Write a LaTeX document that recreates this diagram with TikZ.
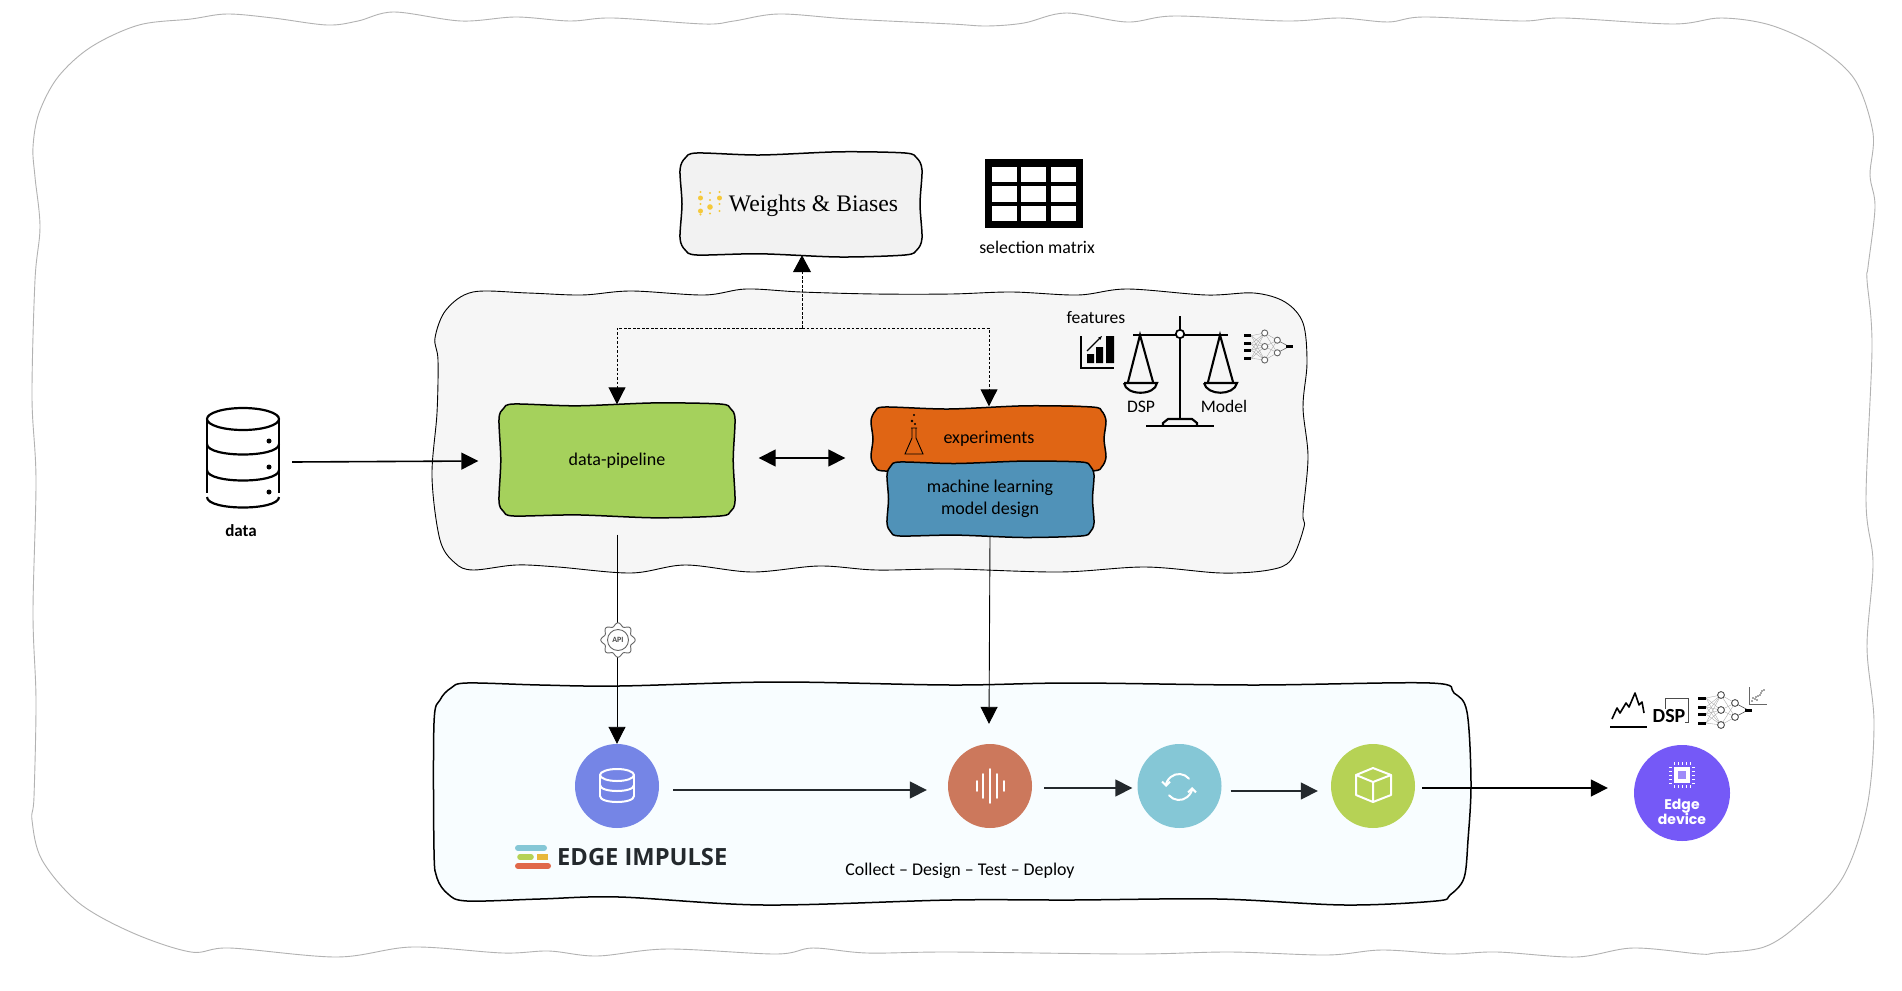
\documentclass[tikz,border=0pt]{standalone}
\usepackage{fontspec}
\setmainfont{Carlito}
\newfontfamily\wbfont{Liberation Serif}
\newfontfamily\popfont{Poppins}
\newfontfamily\opfont{Open Sans}
\usetikzlibrary{arrows.meta,calc}
\definecolor{dk}{HTML}{24292D}
\definecolor{cdb}{HTML}{7585E6}
\definecolor{csd}{HTML}{CC785C}
\definecolor{csy}{HTML}{85C7D6}
\definecolor{ccu}{HTML}{B6D255}
\definecolor{cedge}{HTML}{7559F7}
\definecolor{cgreen}{HTML}{A5D15C}
\definecolor{corange}{HTML}{E06514}
\definecolor{cblue}{HTML}{5092B8}
\definecolor{cbot}{HTML}{F8FDFF}
\definecolor{cwb}{HTML}{F5C93A}
\definecolor{cei}{HTML}{E0684A}
\definecolor{cey}{HTML}{E8B83A}
\newcommand\fs[1]{\fontsize{#1}{\dimexpr#1pt*6/5\relax}\selectfont}
\newcommand\wobbox[7]{%
\draw[#1] plot[smooth cycle,tension=.5] coordinates {
({#2+#6},{#3}) ({#2+.33*(#4-#2)},{#3+#7}) ({#2+.66*(#4-#2)},{#3-.6*#7}) ({#4-#6},{#3})
({#4-.3*#6},{#3+.3*#6}) ({#4},{#3+#6}) ({#4-#7},{.5*(#3+#5)}) ({#4},{#5-#6})
({#4-.3*#6},{#5-.3*#6}) ({#4-#6},{#5}) ({#2+.66*(#4-#2)},{#5+#7}) ({#2+.33*(#4-#2)},{#5-.6*#7}) ({#2+#6},{#5})
({#2+.3*#6},{#5-.3*#6}) ({#2},{#5-#6}) ({#2+#7},{.5*(#3+#5)}) ({#2},{#3+#6}) ({#2+.3*#6},{#3+.3*#6})};}
% neural-net icon: local box 54 x 30
\newcommand\nnicon[2]{%
\begin{scope}[#1]
\foreach \a in {3,12,19,28}{\foreach \b in {0,15,30}{\draw[black!35,line width=.35pt] (8,\a) -- (23,\b);}}
\foreach \b in {0,15,30}{\foreach \c in {8,22}{\draw[black!35,line width=.35pt] (23,\b) -- (37,\c);}}
\foreach \c in {8,22}{\draw[#2,line width=.6pt] (37,\c) -- (50,15);}
\foreach \a in {3,12,19,28}{\draw[black,line width=3pt] (0,\a) -- (8,\a);}
\foreach \b in {0,15,30}{\draw[#2,line width=.9pt,fill=white] (23,\b) circle[radius=3.4];}
\foreach \c in {8,22}{\draw[#2,line width=.9pt,fill=white] (37,\c) circle[radius=3.4];}
\draw[black,line width=3pt] (47,15) -- (54,15);
\end{scope}}
\tikzset{
  lbl/.style={inner sep=0pt,font=\fs{18}},
  arr/.style={line width=1.6pt,draw=#1,-{Triangle[length=17pt,width=17pt]}},
  arr/.default=black,
  dotline/.style={line width=.9pt,dash pattern=on 2.6pt off 1.9pt},
  ringnode/.style={circle,minimum size=84pt,inner sep=0pt,fill=#1},
  ico/.style={white,line width=2pt,line cap=round,line join=round},
}
\begin{document}
\begin{tikzpicture}[x=1pt,y=-1pt]
\useasboundingbox (0,0) rectangle (1902,990);
\fill[white] (0,0) rectangle (1902,990);
% large blobs
\draw[black!30,line width=.9pt] plot[smooth cycle,tension=.55] coordinates {
(35,177)(33,147)(39,113)(58,77)(91,47)(139,25)(191,19)(227,14)(273,18)(327,25)(358,21)(394,12)(461,21)(516,17)(570,21)(613,18)(704,24)(734,21)(779,14)(849,19)(951,24)(987,26)(1024,23)(1066,13)(1127,22)(1175,16)(1285,21)(1339,18)(1388,22)(1424,17)(1521,21)(1564,18)(1673,24)(1721,18)(1770,25)(1818,47)(1855,80)(1873,133)(1870,175)(1875,207)(1868,267)(1867,280)(1872,347)(1866,500)(1873,563)(1867,647)(1874,723)(1867,807)(1843,877)(1800,923)(1764,947)(1715,953)(1700,954)(1633,948)(1576,957)(1497,952)(1448,954)(1382,950)(1327,955)(1230,952)(1133,954)(951,952)(867,953)(813,948)(776,954)(667,949)(597,956)(549,951)(503,953)(412,947)(337,957)(230,948)(191,952)(133,933)(79,903)(42,860)(32,820)(34,797)(36,700)(33,613)(36,480)(32,397)(35,280)(40,227)};
\draw[black,fill=black!3.5,line width=.9pt] plot[smooth cycle,tension=.55] coordinates {
(473,292)(528,293)(582,295)(631,291)(704,295)(746,289)(801,292)(875,294)(951,294)(1012,292)(1078,295)(1127,289)(1206,295)(1254,293)(1285,302)(1303,323)(1307,363)(1303,407)(1308,457)(1303,513)(1304,527)(1291,560)(1269,570)(1221,573)(1145,567)(1060,572)(951,569)(876,570)(819,566)(752,572)(685,565)(631,573)(558,567)(516,565)(473,570)(455,563)(440,540)(432,477)(437,413)(438,360)(435,338)(446,310)};
\draw[black,fill=cbot,line width=1.5pt] plot[smooth cycle,tension=.55] coordinates {
(467,683)(540,685)(619,686)(776,682)(951,685)(1072,683)(1254,685)(1430,683)(1454,693)(1467,712)(1471,783)(1468,840)(1464,878)(1450,895)(1436,901)(1345,905)(1218,899)(1072,900)(951,900)(764,905)(619,897)(540,899)(467,901)(448,894)(437,878)(434,850)(434,723)(440,700)(451,688)};
% boxes
\fill[corange] (1000,411) .. controls (1040,404) and (1070,404) .. (1092,407) -- (1092,412) -- cycle;
\wobbox{black,fill=black!5,line width=1.5pt}{680}{153}{922}{255}{17}{2}
\wobbox{black,fill=cgreen,line width=1.5pt}{499}{404}{735}{516}{15}{1.8}
\wobbox{black,fill=corange,line width=1.5pt}{871}{407}{1106}{471}{14}{2}
\wobbox{black,fill=cblue,line width=1.5pt}{887}{462}{1094}{536}{13}{1.5}
\node[inner sep=0pt,minimum width=242pt,minimum height=102pt] (wb) at (801,204) {};
\node[lbl] (dp) at (617,461) [minimum width=237pt,minimum height=113pt] {\raisebox{-1pt}{data-pipeline}};
\node[lbl] (exp) at (989,439) [minimum width=235pt,minimum height=65pt] {\raisebox{-1pt}{experiments}};
\node[lbl,align=center] (ml) at (990,499) [minimum width=207pt,minimum height=74pt] {machine learning\\[0pt]model design};
\node[inner sep=0pt,font=\wbfont\fs{23.7}] (wbt) at (813.5,206) {Weights \& Biases};
% W&B dots
\foreach \x/\y/\r in {700.5/192/1.1,700.5/198/2.5,700.5/204/1.1,700.5/211/2.5,700.5/214.5/1.1,710/193/1.1,710/200/1.1,710/207/2.8,710/213.5/1.1,719.5/192/1.1,719.5/198/2.5,719.5/204/1.1,719.5/211/1.1}
  \fill[cwb] (\x,\y) circle[radius=\r];
% selection matrix
\fill[black] (985,159) rectangle (1083,228);
\foreach \a/\b in {992/1017,1021/1046,1051/1076}{\foreach \c/\d in {167/182,186/202,206/221}{\fill[white] (\a,\c) rectangle (\b,\d);}}
\node[lbl,font=\fs{17.8}] (sm) at (1037,247) {selection matrix};
% data cylinder
\begin{scope}[line width=2.2pt,black]
\draw (243,419) ellipse[x radius=36,y radius=11];
\draw (207,419) -- (207,493) (279,419) -- (279,493);
\foreach \a in {444,470,497}{\draw (207,\a) .. controls (207,\a+14) and (279,\a+14) .. (279,\a);}
\foreach \a in {441,467,492}{\fill (269,\a) circle[radius=2.5];}
\end{scope}
\node[lbl,font=\bfseries\fs{17}] (dt) at (241,531) {data};
\node[inner sep=0pt,minimum size=1pt] (dcyl) at (243,462) {};
% bottom circles
\node[ringnode=cdb] (c1) at (617,786) {};
\node[ringnode=csd] (c2) at (990,786) {};
\node[ringnode=csy] (c3) at (1179.5,786) {};
\node[ringnode=ccu] (c4) at (1373,786) {};
\node[circle,minimum size=96pt,inner sep=0pt,fill=cedge] (ed) at (1682,793) {};
% connectors
\draw[arr] ([xshift=49pt]dcyl.center) -- ([xshift=-20pt]dp.west);
\draw[line width=1.6pt,{Triangle[length=17pt,width=17pt]}-{Triangle[length=17pt,width=17pt]}] ([xshift=23pt,yshift=3pt]dp.east) -- ([xshift=-26pt,yshift=-19pt]exp.west);
\coordinate (tee) at (802,328);
\draw[dotline,-{Triangle[length=17pt,width=18pt]}] (tee) -- (wb.south -| tee);
\draw[dotline,-{Triangle[length=17pt,width=17pt]}] (tee) -| (dp.north);
\draw[dotline,-{Triangle[length=17pt,width=17pt]}] (tee) -| (exp.north);
\draw[line width=.9pt,-{Triangle[length=17pt,width=17pt]}] ([yshift=-17pt]dp.south) -- (c1.north);
\draw[line width=.9pt,-{Triangle[length=17pt,width=17pt]}] (ml.south) -- ([yshift=20pt]c2.north -| exp.south);
\draw[arr=dk] ([xshift=14pt,yshift=-4pt]c1.east) -- ([xshift=-21pt,yshift=-4pt]c2.west);
\draw[arr=dk] ([xshift=12pt,yshift=-2pt]c2.east) -- ([xshift=-5pt,yshift=-2pt]c3.west);
\draw[arr=dk] ([xshift=9pt,yshift=-5pt]c3.east) -- ([xshift=-13pt,yshift=-5pt]c4.west);
\draw[arr=black] ([xshift=7pt,yshift=-2pt]c4.east) -- ([xshift=-26pt,yshift=5pt]ed.west);
% API gear
\draw[black!60,line width=.9pt,fill=white] plot[smooth cycle,samples=73,domain=0:355] ({618+(15.5+1.7*cos(8*\x))*cos(\x)},{640+(15.5+1.7*cos(8*\x))*sin(\x)});
\draw[black!60,line width=.9pt] (618,640) circle[radius=10.5];
\node[inner sep=0pt,font=\bfseries\fs{8},text=black!70] (api) at (618,640) {API};
% icons in circles
\draw[ico] (617,775) ellipse[x radius=17,y radius=6];
\draw[ico] (600,775) -- (600,796) (634,775) -- (634,796);
\foreach \a in {785,796}{\draw[ico] (600,\a) .. controls (600,\a+8) and (634,\a+8) .. (634,\a);}
\foreach \x/\h in {977/5,983/12,990/17,997/12,1004/5}{\draw[ico,line width=1.6pt] (\x,786-\h) -- (\x,786+\h);}
\draw[ico,-{Straight Barb[length=4pt,width=8pt]}] (1179,787) ++(320:13) arc[start angle=320,end angle=180,radius=13];
\draw[ico,-{Straight Barb[length=4pt,width=8pt]}] (1179,787) ++(140:13) arc[start angle=140,end angle=0,radius=13];
\draw[ico] (1373,768) -- (1391,775) -- (1391,795) -- (1373,802) -- (1356,795) -- (1356,775) -- cycle;
\draw[ico] (1356,775) -- (1373,782) -- (1391,775) (1373,782) -- (1373,802);
% edge device
\fill[white] (1674,767) rectangle (1690,783);
\fill[cedge!70!white] (1678,771) rectangle (1686,779);
\foreach \t in {-8,-4,0,4,8}{\draw[white,line width=.8pt] (1682+\t,762) -- (1682+\t,765) (1682+\t,785) -- (1682+\t,788) (1669,775+\t) -- (1672,775+\t) (1692,775+\t) -- (1695,775+\t);}
\node[inner sep=0pt,align=center,text=white,font=\popfont\bfseries\fs{14}] (edt) at (1682,811.5) {Edge\\[-2pt]device};
% experiments flask
\begin{scope}[line width=.9pt,black]
\draw (911,428) -- (917,428) (912,428) -- (912,438) -- (905,454) -- (923,454) -- (916,438) -- (916,428);
\fill (914,415) circle[radius=1.1] (912,421) circle[radius=1.3] (915,424) circle[radius=1.1];
\end{scope}
% balance
\begin{scope}[black,line width=2.1pt]
\draw (1180,316) -- (1180,419);
\draw (1133,335) -- (1228,335);
\draw (1146,426) -- (1214,426);
\draw (1163,426) -- (1163,423) -- (1168,419) -- (1192,419) -- (1197,423) -- (1197,426);
\draw (1128,382) -- (1140,335) -- (1153,382);
\draw (1208,382) -- (1220,335) -- (1233,382);
\draw (1124,383) -- (1157,383) .. controls (1155,396) and (1126,396) .. (1124,383);
\draw (1204,383) -- (1237,383) .. controls (1234,396) and (1207,396) .. (1204,383);
\draw[fill=white,line width=1.7pt] (1180,334) circle[radius=4.2];
\end{scope}
\node[lbl,font=\fs{17.6}] (ft) at (1096,318) {features};
\node[lbl,font=\fs{17.6}] (ds) at (1141,407) {DSP};
\node[lbl,font=\fs{17.6}] (mo) at (1224,406) {Model};
% bar icon
\draw[black,line width=2pt] (1081,336) -- (1081,368) -- (1114,368);
\fill[black] (1087,354) rectangle (1094,363) (1096,347) rectangle (1103,363) (1106,336) rectangle (1114,363);
\draw[black,line width=1.2pt,-{Stealth[length=4pt]}] (1087,351) -- (1102,336);
\nnicon{shift={(1244,333)},xscale=.9,yscale=.9}{black!60}
% top-right icons
\draw[black,line width=2.4pt] (1610,727) -- (1647,727);
\draw[black,line width=1.6pt,line join=round] (1612,719) -- (1617,708) -- (1620,713) -- (1626,703) -- (1629,707) -- (1635,693) -- (1639,705) -- (1642,702) -- (1644,713);
\draw[black!70,line width=.8pt] (1665,698) rectangle (1688,722);
\node[inner sep=0pt,fill=white,font=\bfseries\fs{20}] (dsp2) at (1669,716) {DSP};
\nnicon{shift={(1698,695)}}{black!70}
\draw[black!60,line width=.7pt] (1749,687) -- (1749,704) -- (1767,704);
\foreach \x/\y in {1752/701,1755/699,1758/696,1761/693,1764/690,1753/698,1760/695,1757/700,1762/691,1756/697}\fill[black!70] (\x,\y) circle[radius=.8];
% Edge Impulse logo
\draw[csy,line width=6pt,line cap=round] (518,848) -- (541,848) -- (544,848);
\draw[ccu,line width=5.6pt,line cap=round] (520,857) -- (531,857);
\draw[cey,line width=5.6pt] (537,857) -- (548,857);
\draw[cei,line width=6pt,line cap=round] (518,866) -- (548,866);
\node[inner sep=0pt,anchor=west,text=dk,font=\opfont\bfseries\fs{23.7}] (ei) at (557,857) {EDGE IMPULSE};
\node[lbl,font=\fs{17.9}] (cd) at (960,871) {Collect – Design – Test – Deploy};
\end{tikzpicture}
\end{document}
